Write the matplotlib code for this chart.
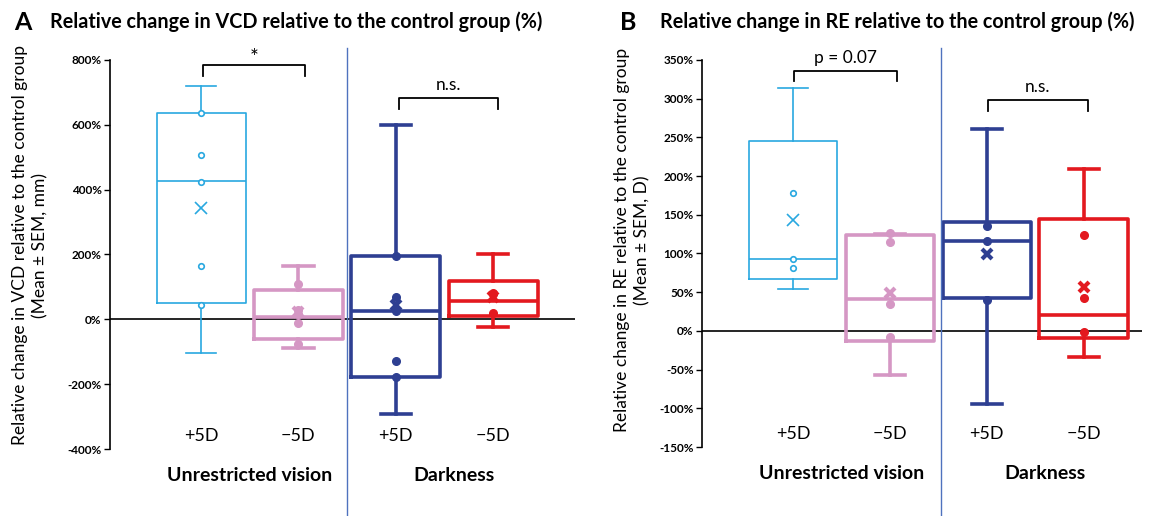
import matplotlib.pyplot as plt
import matplotlib.transforms as mtransforms

plt.rcParams['font.family'] = ['Lato', 'DejaVu Sans']

# groups / labels
dose_labels = ["+5D", "\u22125D", "+5D", "\u22125D"]
group_labels = ["Unrestricted vision", "Darkness"]

# panel A : VCD (%)
vcd_q1 = [49, -60, -177, 9]
vcd_med = [426, 7, 25, 56]
vcd_q3 = [638, 92, 196, 117]
vcd_lo = [-105, -87, -291, -23]
vcd_hi = [719, 163, 598, 203]
vcd_mean = [342, 23, 43, 69]
vcd_points = [[636, 508, 423, 163, 45],
              [108, 30, 15, -12, -75],
              [196, 69, 25, -129, -177],
              [82, 78, 18]]
vcd_ticks = [-400, -200, 0, 200, 400, 600, 800]

# panel B : RE (%)
re_q1 = [67.6, -12.9, 42.2, -9.4]
re_med = [93.4, 41.7, 116.3, 21]
re_q3 = [245.9, 123.6, 140.4, 144.7]
re_lo = [54.7, -56.8, -94.3, -34]
re_hi = [313.6, 125, 260.6, 208.9]
re_mean = [143.8, 49.5, 99.5, 56.5]
re_points = [[178.7, 93, 81.4],
             [126, 115, 35, -7.3],
             [136, 116, 40],
             [123.6, 43, -0.9]]
re_ticks = [-150, -100, -50, 0, 50, 100, 150, 200, 250, 300, 350]

colors = ["#29A8E0", "#D597C4", "#2E3F92", "#E3191F"]
lws = [1.2, 2.6, 2.6, 2.6]
sep_color = "#4F72BE"


def draw_panel(ax, q1, med, q3, lo, hi, mean, points, ticks, xlim, sep_x):
    for i in range(4):
        c, lw = colors[i], lws[i]
        st = dict(q1=q1[i], med=med[i], q3=q3[i], whislo=lo[i], whishi=hi[i], fliers=[])
        ax.bxp([st], positions=[i], widths=0.915, capwidths=0.31, showfliers=False,
               boxprops=dict(color=c, lw=lw), whiskerprops=dict(color=c, lw=lw),
               capprops=dict(color=c, lw=lw), medianprops=dict(color=c, lw=lw))
        if i == 0:
            ax.plot([i] * len(points[i]), points[i], 'o', ms=4, mfc='white', mec=c, mew=1.2, zorder=4)
            ax.plot(i, mean[i], 'x', ms=8, color=c, mew=1.2, zorder=4)
        else:
            ax.plot([i] * len(points[i]), points[i], 'o', ms=5.5, color=c, zorder=4)
            ax.plot(i, mean[i], 'x', ms=7.5, color=c, mew=3, zorder=4)
    ax.axhline(0, color='black', lw=1.2, zorder=1)
    ax.set_xlim(*xlim)
    ax.set_ylim(ticks[0], ticks[-1])
    ax.set_yticks(ticks)
    ax.set_yticklabels([f"{t}%" for t in ticks], fontsize=8.5, fontweight='bold')
    ax.tick_params(axis='y', length=4, width=1, pad=2)
    ax.set_xticks([])
    for s in ['top', 'right', 'bottom']:
        ax.spines[s].set_visible(False)
    ax.spines['left'].set_linewidth(1.2)
    trans = mtransforms.blended_transform_factory(ax.transData, ax.transAxes)
    ax.plot([sep_x, sep_x], [1.03, -0.2], transform=trans, color=sep_color, lw=1, clip_on=False)
    for i, lab in enumerate(dose_labels):
        ax.text(i, 0.033, lab, transform=trans, ha='center', va='center', fontsize=13)
    ax.text(0.5, -0.068, group_labels[0], transform=trans, ha='center', va='center',
            fontsize=14, fontweight='bold')
    ax.text(2.6, -0.068, group_labels[1], transform=trans, ha='center', va='center',
            fontsize=14, fontweight='bold')


def bracket(ax, x0, x1, y, drop, text, ty, fs=12.5):
    ax.plot([x0, x0, x1, x1], [y - drop, y, y, y - drop], color='black', lw=1.3, clip_on=False)
    ax.text((x0 + x1) / 2, ty, text, ha='center', va='center', fontsize=fs, clip_on=False)


fig = plt.figure(figsize=(11.57, 5.16), dpi=100)
axA = fig.add_axes([110 / 1157, 67 / 516, 465 / 1157, 389 / 516])
axB = fig.add_axes([702 / 1157, 69 / 516, 440 / 1157, 387 / 516])

draw_panel(axA, vcd_q1, vcd_med, vcd_q3, vcd_lo, vcd_hi, vcd_mean, vcd_points,
           vcd_ticks, (-0.935, 3.84), 1.5)
draw_panel(axB, re_q1, re_med, re_q3, re_lo, re_hi, re_mean, re_points,
           re_ticks, (-0.938, 3.6), 1.53)

bracket(axA, 0.02, 1.07, 786, 34, "*", 805, fs=15)
bracket(axA, 2.03, 3.05, 682, 34, "n.s.", 722)
bracket(axB, 0.01, 1.07, 336, 13, "p = 0.07", 353)
bracket(axB, 2.01, 3.04, 298, 14, "n.s.", 315)

fig.text(30 / 1157, 1 - 245 / 516,
         "Relative change in VCD relative to the control group\n(Mean \u00b1 SEM, mm)",
         rotation=90, ha='center', va='center', fontsize=12.5, linespacing=1.3)
fig.text(632 / 1157, 1 - 240 / 516,
         "Relative change in RE relative to the control group\n(Mean \u00b1 SEM, D)",
         rotation=90, ha='center', va='center', fontsize=12.5, linespacing=1.3)

fig.text(14 / 1157, 1 - 22 / 516, "A", fontsize=18, fontweight='bold', va='center')
fig.text(50 / 1157, 1 - 22 / 516, "Relative change in VCD relative to the control group (%)",
         fontsize=14.2, fontweight='bold', va='center')
fig.text(620 / 1157, 1 - 22 / 516, "B", fontsize=18, fontweight='bold', va='center')
fig.text(660 / 1157, 1 - 22 / 516, "Relative change in RE relative to the control group (%)",
         fontsize=14.2, fontweight='bold', va='center')

fig.savefig("out.png", dpi=100)
